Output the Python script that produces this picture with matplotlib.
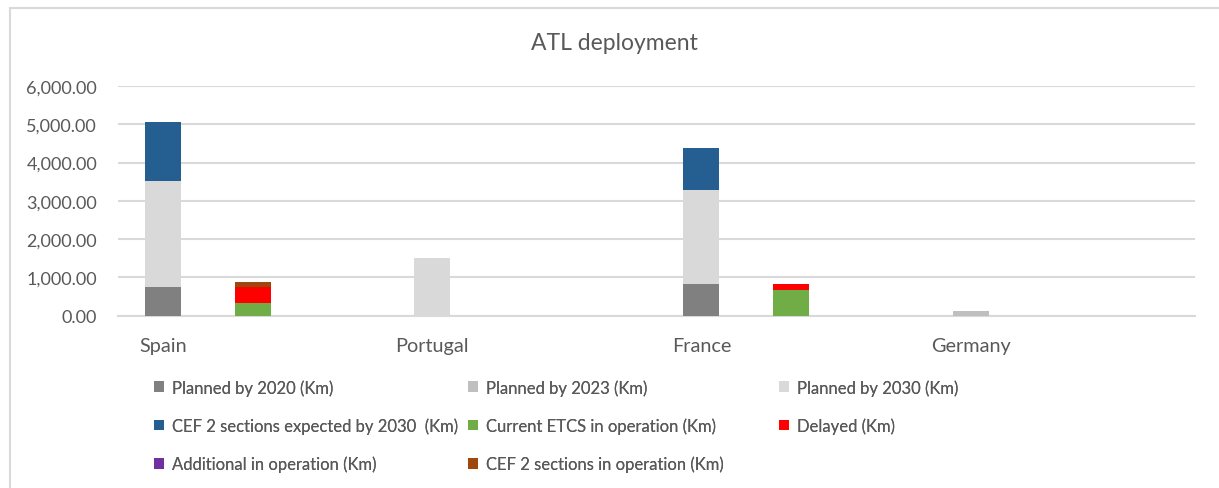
import numpy as np
import matplotlib.pyplot as plt
from matplotlib.patches import Rectangle

plt.rcParams['font.family'] = ['Lato', 'DejaVu Sans']

countries = ["Spain", "Portugal", "France", "Germany"]

# stack 1 (planned) per country
planned_2020 = [750, 0, 835, 0]
planned_2023 = [0, 0, 0, 130]
planned_2030 = [2770, 1500, 2445, 0]
cef2_expected = [1530, 0, 1090, 0]

# stack 2 (operation) per country
current_etcs = [330, 0, 680, 0]
delayed = [420, 0, 155, 0]
additional = [0, 0, 0, 0]
cef2_operation = [120, 0, 0, 0]

labels = ["Planned by 2020 (Km)", "Planned by 2023 (Km)", "Planned by 2030 (Km)",
          "CEF 2 sections expected by 2030  (Km)", "Current ETCS in operation (Km)", "Delayed (Km)",
          "Additional in operation (Km)", "CEF 2 sections in operation (Km)"]
colors = ["#808080", "#bfbfbf", "#d9d9d9", "#255e91", "#70ad47", "#ff0000", "#7030a0", "#9e480e"]

fig = plt.figure(figsize=(12.19, 4.89), dpi=100)
ax = fig.add_axes([118 / 1219, 1 - 316.7 / 489, 1077 / 1219, 229.7 / 489])

# each country has 3 slots; planned in slot 0, operation in slot 1
x1 = np.arange(len(countries)) * 3
x2 = x1 + 1
w = 0.4

handles = []
bottom = np.zeros(len(countries))
for vals, c, lab in zip([planned_2020, planned_2023, planned_2030, cef2_expected], colors[:4], labels[:4]):
    h = ax.bar(x1, vals, w, bottom=bottom, color=c, label=lab, zorder=3)
    handles.append(h)
    bottom += np.array(vals)

bottom = np.zeros(len(countries))
for vals, c, lab in zip([current_etcs, delayed, additional, cef2_operation], colors[4:], labels[4:]):
    h = ax.bar(x2, vals, w, bottom=bottom, color=c, label=lab, zorder=3)
    handles.append(h)
    bottom += np.array(vals)

ax.set_xlim(-0.5, 11.5)
ax.set_ylim(0, 6000)
ax.set_yticks(np.arange(0, 6001, 1000))
ax.yaxis.set_major_formatter(plt.FuncFormatter(lambda v, p: f"{v:,.2f}"))
ax.set_xticks(x1)
ax.set_xticklabels(countries)
ax.tick_params(axis='both', length=0, colors="#595959")
ax.tick_params(axis='x', pad=15, labelsize=14.3)
ax.tick_params(axis='y', pad=15, labelsize=13)
ax.grid(axis='y', color="#d9d9d9", linewidth=1.5, zorder=0)
for s in ["top", "right", "left"]:
    ax.spines[s].set_visible(False)
ax.spines["bottom"].set_color("#d9d9d9")
ax.spines["bottom"].set_linewidth(1.5)

fig.text(614 / 1219, 1 - 43 / 489, "ATL deployment", ha="center", va="center",
         fontsize=16.5, color="#595959")

# legend: three columns, filled row by row
col_x = [154, 468, 779]
for i in range(3):
    idx = list(range(i, 8, 3))
    lg = fig.legend([handles[j] for j in idx], [labels[j] for j in idx],
                    loc="upper left", bbox_to_anchor=(col_x[i] / 1219, 1 - 380 / 489),
                    frameon=False, fontsize=12, labelcolor="#595959",
                    handlelength=0.62, handleheight=0.62, handletextpad=0.45,
                    labelspacing=1.3, borderpad=0, borderaxespad=0)
    fig.add_artist(lg)

# outer chart border
fig.patches.append(Rectangle((10 / 1219, -0.1), 1.2, 1.1 - 9 / 489, transform=fig.transFigure,
                             fill=False, edgecolor="#d9d9d9", linewidth=1.5))

fig.savefig("out.png", dpi=100)
